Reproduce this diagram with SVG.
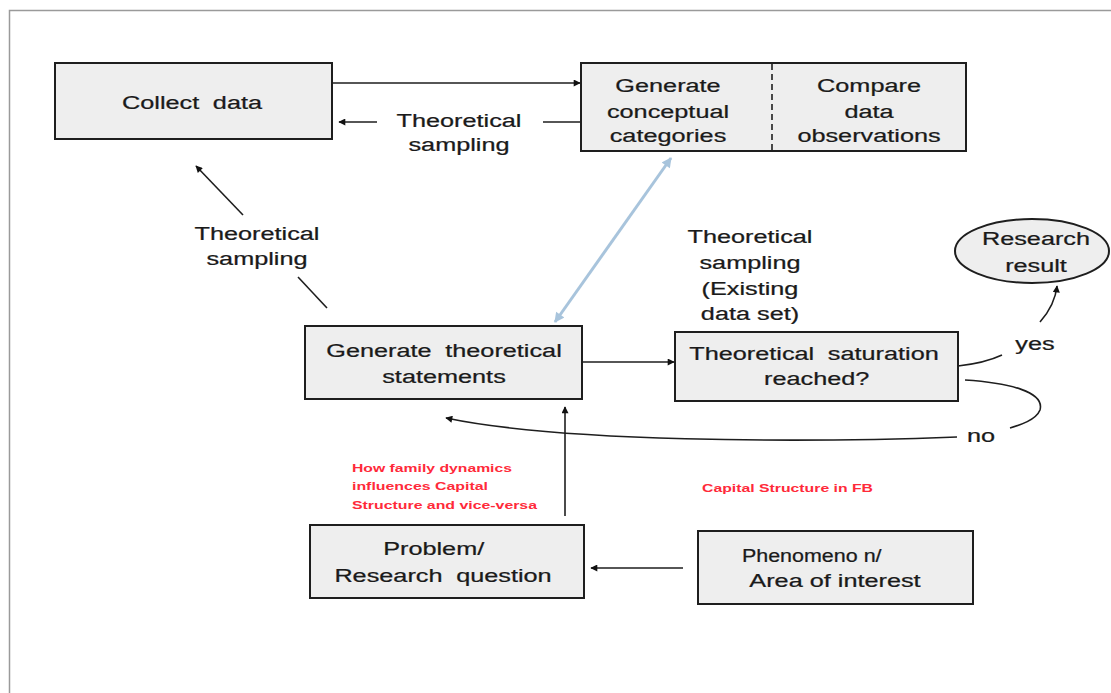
<svg xmlns="http://www.w3.org/2000/svg" width="1111" height="693" viewBox="0 0 1111 693">
<style>
.box{fill:#eeeeee;stroke:#1e1e1e;stroke-width:2}
.t{font-family:"Liberation Sans",Arial,sans-serif;font-size:19px;fill:#1a1a1a;text-anchor:middle;stroke:#1a1a1a;stroke-width:0.25}
.ws{word-spacing:5px}
.red{font-family:"Liberation Sans",Arial,sans-serif;font-size:10.5px;font-weight:bold;fill:#ff2a3a}
.ln{stroke:#1e1e1e;stroke-width:1.6;fill:none}
.frame{stroke:#9a9a9a;stroke-width:1.5;fill:none}
</style>
<defs>
<marker id="ah" viewBox="0 0 10 10" refX="9" refY="5" markerWidth="8" markerHeight="7" markerUnits="userSpaceOnUse" orient="auto-start-reverse"><path d="M0,0 L10,5 L0,10 z" fill="#111"/></marker>
<marker id="bh" viewBox="0 0 10 10" refX="9" refY="5" markerWidth="11" markerHeight="10" markerUnits="userSpaceOnUse" orient="auto-start-reverse"><path d="M0,0 L10,5 L0,10 z" fill="#a8c4dc"/></marker>
</defs>
<rect width="1111" height="693" fill="#ffffff"/>
<path class="frame" d="M9.5,693 V10.5 H1111"/>

<g id="connectors">
<line class="ln" x1="332" y1="83" x2="580" y2="83" marker-end="url(#ah)"/>
<line class="ln" x1="581" y1="122" x2="543" y2="122"/>
<line class="ln" x1="377" y1="122" x2="339" y2="122" marker-end="url(#ah)"/>
<line class="ln" x1="748" y1="112" x2="805" y2="112" marker-start="url(#ah)" marker-end="url(#ah)"/>
<line x1="555" y1="322" x2="671" y2="158" stroke="#a8c4dc" stroke-width="3" marker-start="url(#bh)" marker-end="url(#bh)"/>
<line class="ln" x1="243" y1="215" x2="196" y2="166" marker-end="url(#ah)"/>
<line class="ln" x1="298" y1="277" x2="327" y2="308"/>
<line class="ln" x1="582" y1="362" x2="674" y2="362" marker-end="url(#ah)"/>
<line class="ln" x1="565" y1="516" x2="565" y2="407" marker-end="url(#ah)"/>
<line class="ln" x1="683" y1="568" x2="591" y2="568" marker-end="url(#ah)"/>
<path class="ln" d="M958,366 Q985,363 1002,355"/>
<path class="ln" d="M1040,322 Q1055,305 1057,286" marker-end="url(#ah)"/>
<path class="ln" d="M965,380 C1010,383 1045,392 1040,410 C1036,420 1020,425 1010,428"/>
<path class="ln" d="M957,437 C800,443 560,442 446,418" marker-end="url(#ah)"/>
</g>

<g id="collect">
<rect class="box" x="55" y="63" width="277" height="76"/>
<text class="t ws" transform="translate(192,109) scale(1.33,1)">Collect data</text>
</g>

<g id="generate-compare">
<rect class="box" x="581" y="63" width="385" height="88"/>
<line x1="772" y1="64" x2="772" y2="150" stroke="#1e1e1e" stroke-width="1.6" stroke-dasharray="6,4"/>
<text class="t" transform="translate(668,92) scale(1.33,1)"><tspan x="0" y="0">Generate</tspan><tspan x="0" y="26">conceptual</tspan><tspan x="0" y="50">categories</tspan></text>
<text class="t" transform="translate(869,92) scale(1.33,1)"><tspan x="0" y="0">Compare</tspan><tspan x="0" y="26">data</tspan><tspan x="0" y="50">observations</tspan></text>
</g>

<g id="label-top">
<text class="t" transform="translate(459,127) scale(1.33,1)"><tspan x="0" y="0">Theoretical</tspan><tspan x="0" y="24">sampling</tspan></text>
</g>

<g id="label-left">
<text class="t" transform="translate(257,240) scale(1.33,1)"><tspan x="0" y="0">Theoretical</tspan><tspan x="0" y="25">sampling</tspan></text>
</g>

<g id="label-existing">
<text class="t" transform="translate(750,243) scale(1.33,1)"><tspan x="0" y="0">Theoretical</tspan><tspan x="0" y="26">sampling</tspan><tspan x="0" y="52">(Existing</tspan><tspan x="0" y="77">data set)</tspan></text>
</g>

<g id="statements">
<rect class="box" x="305" y="326" width="277" height="73"/>
<text class="t" transform="translate(444,357) scale(1.33,1)"><tspan class="ws" x="0" y="0">Generate theoretical</tspan><tspan x="0" y="26">statements</tspan></text>
</g>

<g id="saturation">
<rect class="box" x="675" y="332" width="283" height="69"/>
<text class="t" transform="translate(814,360) scale(1.33,1)"><tspan class="ws" x="0" y="0">Theoretical saturation</tspan><tspan x="2" y="25">reached?</tspan></text>
</g>

<g id="result">
<ellipse cx="1032" cy="251" rx="77" ry="32" class="box"/>
<text class="t" transform="translate(1036,245) scale(1.33,1)"><tspan x="0" y="0">Research</tspan><tspan x="0" y="27">result</tspan></text>
</g>

<g id="label-yes"><text class="t" transform="translate(1035,350) scale(1.33,1)">yes</text></g>
<g id="label-no"><text class="t" transform="translate(981,442) scale(1.33,1)">no</text></g>

<g id="red-question">
<text class="red" x="352" y="472" textLength="160" lengthAdjust="spacingAndGlyphs">How family dynamics</text>
<text class="red" x="352" y="490" textLength="136" lengthAdjust="spacingAndGlyphs">influences Capital</text>
<text class="red" x="352" y="509" textLength="185" lengthAdjust="spacingAndGlyphs">Structure and vice-versa</text>
</g>

<g id="red-fb">
<text class="red" x="702" y="492" textLength="171" lengthAdjust="spacingAndGlyphs">Capital Structure in FB</text>
</g>

<g id="problem">
<rect class="box" x="310" y="525" width="274" height="73"/>
<text class="t" transform="translate(443,555) scale(1.33,1)"><tspan x="-7" y="0">Problem/</tspan><tspan class="ws" x="0" y="27">Research question</tspan></text>
</g>

<g id="phenomenon">
<rect class="box" x="698" y="531" width="275" height="73"/>
<text class="t" transform="translate(835,562) scale(1.33,1)"><tspan x="-70" y="0" style="text-anchor:start" textLength="105" lengthAdjust="spacingAndGlyphs">Phenomeno n/</tspan><tspan x="0" y="25">Area of interest</tspan></text>
</g>
</svg>
